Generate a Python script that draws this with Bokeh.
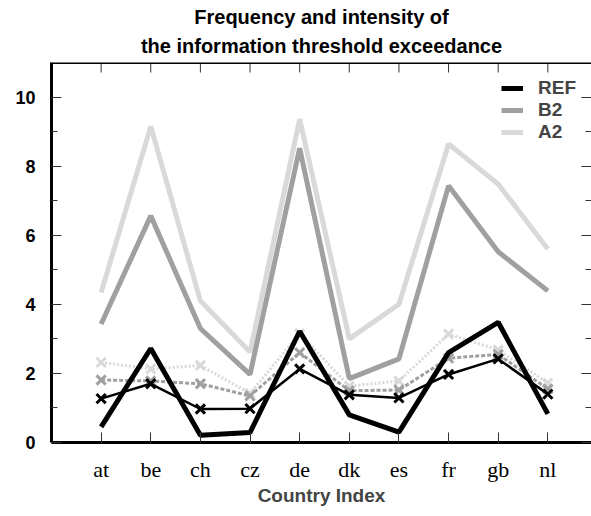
from bokeh.plotting import figure
from bokeh.models import FixedTicker, LinearAxis, Range1d, Legend, LegendItem, Title, Span
from bokeh.embed import file_html
from bokeh.resources import INLINE

countries = ["at", "be", "ch", "cz", "de", "dk", "es", "fr", "gb", "nl"]
# thick lines (frequency)
ref_freq = [0.45, 2.72, 0.21, 0.29, 3.22, 0.80, 0.30, 2.60, 3.48, 0.83]
b2_freq = [3.43, 6.56, 3.30, 1.97, 8.52, 1.85, 2.42, 7.43, 5.52, 4.39]
a2_freq = [4.34, 9.15, 4.10, 2.62, 9.36, 3.00, 4.00, 8.64, 7.48, 5.60]
# marker lines (intensity)
ref_int = [1.27, 1.70, 0.97, 0.98, 2.13, 1.38, 1.29, 1.97, 2.42, 1.40]
b2_int = [1.81, 1.78, 1.70, 1.35, 2.60, 1.50, 1.52, 2.44, 2.55, 1.55]
a2_int = [2.32, 2.13, 2.23, 1.42, 3.15, 1.63, 1.78, 3.14, 2.68, 1.72]
y_ticks = [0, 2, 4, 6, 8, 10]
y_minor = [1, 3, 5, 7, 9]
title_lines = ["Frequency and intensity of", "the information threshold exceedance"]

x = [i + 1 for i in range(len(countries))]

BLACK = "#000000"
MID = "#a0a0a0"
LIGHT = "#d9d9d9"
SANS = "Liberation Sans"

Y_END = 11
p = figure(width=591, height=514, x_range=Range1d(0, 10.88), y_range=Range1d(0, Y_END),
           output_backend="svg", toolbar_location=None, title=None,
           min_border_left=51, min_border_right=0, min_border_top=62, min_border_bottom=72)
p.grid.visible = False
p.outline_line_color = None
p.background_fill_color = "white"
p.border_fill_color = "white"

# bottom axis with the country labels
xa = p.xaxis[0]
xa.ticker = FixedTicker(ticks=x)
xa.major_label_overrides = {i + 1: c for i, c in enumerate(countries)}
xa.major_label_text_font = "Liberation Serif"
xa.major_label_text_font_size = "22px"
xa.major_label_text_color = "black"
xa.major_label_standoff = 14
xa.major_tick_in = 10
xa.major_tick_out = 0
xa.minor_tick_in = 0
xa.minor_tick_out = 0
xa.major_tick_line_color = "#333333"
xa.axis_line_width = 3
xa.axis_label = "Country Index"
xa.axis_label_text_font = SANS
xa.axis_label_text_font_style = "bold"
xa.axis_label_text_font_size = "19px"
xa.axis_label_standoff = 0

# left axis
ya = p.yaxis[0]
ya.ticker = FixedTicker(ticks=y_ticks, minor_ticks=y_minor)
ya.major_label_text_font = SANS
ya.major_label_text_font_style = "bold"
ya.major_label_text_font_size = "18px"
ya.major_label_text_color = "black"
ya.major_label_standoff = 16
ya.major_tick_in = 10
ya.major_tick_out = 0
ya.minor_tick_in = 6
ya.minor_tick_out = 0
ya.major_tick_line_color = "#333333"
ya.minor_tick_line_color = "#333333"
ya.axis_line_width = 3

# right axis (ticks only)
ra = LinearAxis(ticker=FixedTicker(ticks=y_ticks, minor_ticks=y_minor),
                major_label_overrides={t: "" for t in y_ticks},
                major_label_standoff=0,
                major_tick_in=10, major_tick_out=0, minor_tick_in=6, minor_tick_out=0,
                axis_line_color=None, major_tick_line_color="#333333",
                minor_tick_line_color="#333333")
p.add_layout(ra, "right")

# top border of the frame and its inward ticks at each category
p.add_layout(Span(location=Y_END, dimension="width", line_color="black", line_width=3,
                  level="overlay"))
tick_len = Y_END * 10 / 380.0
p.segment(x0=x, x1=x, y0=[Y_END] * len(x), y1=[Y_END - tick_len] * len(x),
          line_color="#333333", line_width=1)

# two-line centred title (second line nearest the plot)
p.add_layout(Title(text=title_lines[1], align="center", text_font_size="20px",
                   text_font=SANS, text_font_style="bold", text_color="black",
                   text_line_height=0.85, offset=7, standoff=11), "above")
p.add_layout(Title(text=title_lines[0], align="center", text_font_size="20px",
                   text_font=SANS, text_font_style="bold", text_color="black",
                   text_line_height=0.85, offset=7, standoff=0), "above")

# thick lines
r_a2 = p.line(x, a2_freq, line_color=LIGHT, line_width=5)
r_b2 = p.line(x, b2_freq, line_color=MID, line_width=5)

# marker lines
p.line(x, a2_int, line_color=LIGHT, line_width=3, line_dash="2 2")
p.scatter(x, a2_int, marker="x", size=13, line_color=LIGHT, line_width=3)
p.line(x, b2_int, line_color=MID, line_width=3, line_dash="4 2")
p.scatter(x, b2_int, marker="x", size=13, line_color=MID, line_width=3)
p.line(x, ref_int, line_color=BLACK, line_width=2.5)
p.scatter(x, ref_int, marker="x", size=13, line_color=BLACK, line_width=3)

r_ref = p.line(x, ref_freq, line_color=BLACK, line_width=5)

legend = Legend(items=[LegendItem(label="REF", renderers=[r_ref]),
                       LegendItem(label="B2", renderers=[r_b2]),
                       LegendItem(label="A2", renderers=[r_a2])],
                location=(450, 299), padding=0, margin=0, spacing=0,
                glyph_width=22, glyph_height=20, label_height=20, label_standoff=15,
                label_text_font=SANS, label_text_font_style="bold",
                label_text_font_size="19px", border_line_color=None,
                background_fill_alpha=0)
p.add_layout(legend)

open("out.html", "w").write(file_html(p, INLINE))
